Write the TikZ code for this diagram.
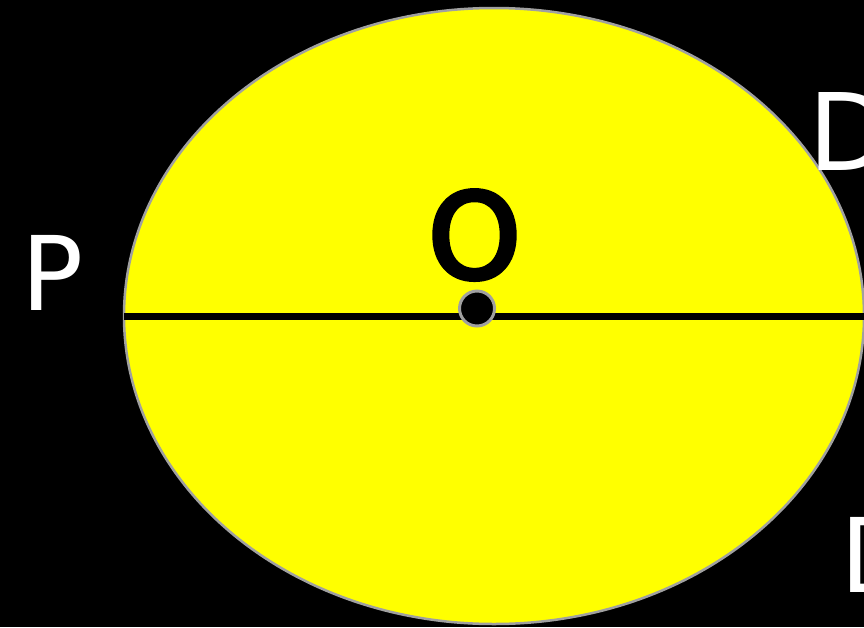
\documentclass[tikz,border=0pt]{standalone}
\usepackage{fontspec}
\setmainfont{DejaVu Sans}
\newfontfamily\heavyo[FakeBold=4]{DejaVu Sans}
\usetikzlibrary{shapes.geometric}
\definecolor{pureyellow}{RGB}{255,255,0}
\definecolor{rimgray}{RGB}{160,160,160}
\begin{document}
\begin{tikzpicture}[x=1pt,y=-1pt,
  lbl/.style={inner sep=0pt,anchor=base west,text=white},
  rim/.style={draw=rimgray,line width=2.5pt}]
\useasboundingbox (0,0) rectangle (864,627);
\fill[black] (0,0) rectangle (864,627);
\clip (0,0) rectangle (864,627);
\node[rim,fill=pureyellow,ellipse,minimum width=740pt,minimum height=616pt,inner sep=0pt] (E) at (494,316) {};
\coordinate (L) at (124,316.5);
\coordinate (R) at (866,316.5);
\draw[line width=6.5pt] (L) -- (R);
\node[rim,line width=3pt,fill=black,circle,minimum size=35pt,inner sep=0pt] (C) at (477,308.5) {};
\node[inner sep=0pt,anchor=base,font=\heavyo\fontsize{118}{118}\selectfont] (O) at (474.5,278) {O};
\node[lbl,font=\fontsize{103}{103}\selectfont] (P) at (21,310) {P};
\node[lbl,font=\fontsize{107}{107}\selectfont] (D1) at (808,170) {D};
\node[lbl,font=\fontsize{103}{103}\selectfont] (D2) at (840,592) {D};
\end{tikzpicture}
\end{document}
